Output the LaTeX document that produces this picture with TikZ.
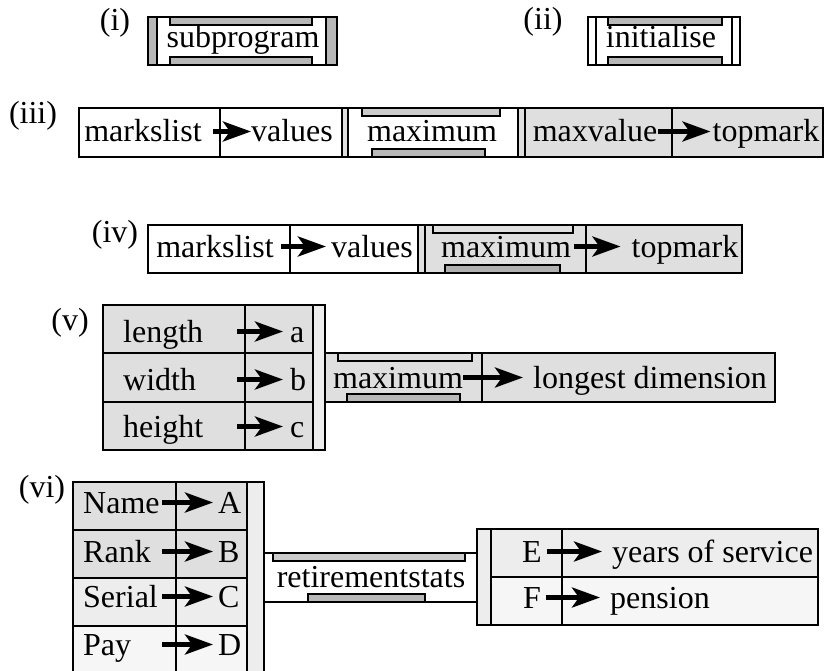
\documentclass[tikz,border=0pt]{standalone}
\usepackage{fontspec}
\setmainfont{Liberation Serif}
\usetikzlibrary{arrows.meta}
\definecolor{cellgray}{gray}{0.875}
\definecolor{palegray}{gray}{0.93}
\definecolor{faintgray}{gray}{0.965}
\definecolor{bargray}{gray}{0.72}
\tikzset{
  box/.style={draw, line width=1.8pt},
  bar/.style={draw, line width=1.5pt, fill=bargray},
  txt/.style={inner sep=0pt, text height=21pt, text depth=0pt, anchor=base},
  flow/.style={line width=4.5pt, -{Stealth[length=28pt,width=20pt,inset=7pt]}},
}
\begin{document}
\begin{tikzpicture}[x=1pt, y=-1pt, font=\fontsize{32pt}{38pt}\selectfont]
	\useasboundingbox (0,0) rectangle (827,671);
	% (i) subprogram
	\draw[box] (148,17) rectangle (337,65);
	\draw[box, fill=bargray] (148,17) rectangle (157,65);
	\draw[box, fill=bargray] (326,17) rectangle (337,65);
	\draw[bar] (170,17) rectangle (312,25);
	\draw[bar] (170,57) rectangle (312,65);
	\node[txt] (subprog) at (243,48) {subprogram};
	\node[txt] (lbli) at (115,31) {(i)};
	% (ii) initialise
	\draw[box] (588,17) rectangle (740,65);
	\draw[box] (588,17) rectangle (596,65);
	\draw[box] (732,17) rectangle (740,65);
	\draw[bar] (608,17) rectangle (722,25);
	\draw[bar] (608,57) rectangle (722,65);
	\node[txt] (init) at (661,48) {initialise};
	\node[txt] (lblii) at (543,30) {(ii)};
	% (iii)
	\draw[box] (79,108) rectangle (342,157);
	\draw[box] (220,108) -- (220,157);
	\draw[box, fill=cellgray] (342,108) rectangle (348,157);
	\draw[box] (348,108) rectangle (518,157);
	\draw[bar, fill=gray!40] (362,108) rectangle (500,116);
	\draw[bar] (372,149) rectangle (485,157);
	\draw[box, fill=cellgray] (518,108) rectangle (525,157);
	\draw[box, fill=cellgray] (525,108) rectangle (823,157);
	\draw[box] (672,108) -- (672,157);
	\node[txt] (lbliii) at (33,124) {(iii)};
	\node[txt] (marksiii) at (143,142) {markslist};
	\node[txt] (valsiii) at (292,142) {values};
	\node[txt] (maxiii) at (432,142) {maximum};
	\node[txt] (maxval) at (595,142) {maxvalue};
	\node[txt] (topiii) at (766,142) {topmark};
	\draw[flow] ([xshift=11pt]marksiii.east) -- (valsiii.west);
	\draw[flow] ([xshift=1pt]maxval.east) -- ([xshift=-2pt]topiii.west);
	% (iv)
	\draw[box] (148,225) rectangle (418,273);
	\draw[box] (290,225) -- (290,273);
	\draw[box, fill=cellgray] (418,225) rectangle (425,273);
	\draw[box, fill=cellgray] (425,225) rectangle (742,273);
	\draw[box] (586,225) -- (586,273);
	\draw[bar, fill=cellgray] (433,225) rectangle (573,233);
	\draw[bar, fill=gray!62] (445,265) rectangle (560,273);
	\node[txt] (lbliv) at (115,243) {(iv)};
	\node[txt] (marksiv) at (215,257) {markslist};
	\node[txt] (valsiv) at (372,257) {values};
	\node[txt] (maxiv) at (506,257) {maximum};
	\node[txt] (topiv) at (685,257) {topmark};
	\draw[flow] ([xshift=7pt]marksiv.east) -- ([xshift=-5pt]valsiv.west);
	\draw[flow] ([xshift=3pt]maxiv.east) -- ([xshift=-11pt]topiv.west);
	% (v)
	\foreach \yt/\yb/\nm/\lt/\bl [count=\i] in {305/353/length/a/342, 353/402/width/b/390, 402/450/height/c/437} {
		\draw[box, fill=cellgray] (103,\yt) rectangle (245,\yb);
		\draw[box, fill=cellgray] (245,\yt) rectangle (313,\yb);
		\node[txt, anchor=base west, text width=114pt] (dimin\i) at (123,\bl) {\nm};
		\node[txt, anchor=base west, inner xsep=7pt] (dimout\i) at (283,\bl) {\lt};
		\draw[flow] (dimin\i.east) -- (dimout\i.west);
	}
	\draw[box, fill=palegray] (313,305) rectangle (325,450);
	\draw[box, fill=cellgray] (325,353) rectangle (775,402);
	\draw[box] (482,353) -- (482,402);
	\draw[bar, fill=cellgray] (338,353) rectangle (472,361);
	\draw[bar] (347,394) rectangle (460,402);
	\node[txt] (lblv) at (70,330) {(v)};
	\node[txt] (maxv) at (398,388) {maximum};
	\node[txt, anchor=base west] (longest) at (533,388) {longest dimension};
	\draw[flow] (maxv.east) -- ([xshift=-10pt]longest.west);
	% (vi)
	\foreach \yt/\yb/\nm/\lt/\bl/\fc [count=\i] in {482/530/Name/A/513/cellgray, 530/578/Rank/B/562/cellgray, 578/626/Serial/C/607/palegray, 626/674/Pay/D/655/faintgray} {
		\draw[box, fill=\fc] (73,\yt) rectangle (176,\yb);
		\draw[box, fill=\fc] (176,\yt) rectangle (247,\yb);
		\node[txt, anchor=base west, text width=79pt] (staffin\i) at (83,\bl) {\nm};
		\node[txt, anchor=base west, inner xsep=5pt] (staffout\i) at (213,\bl) {\lt};
		\draw[flow] (staffin\i.east) -- (staffout\i.west);
	}
	\draw[box, fill=palegray] (247,482) rectangle (264,674);
	\draw[box] (264,553) rectangle (477,602);
	\draw[bar, fill=gray!40] (273,553) rectangle (465,561);
	\draw[bar] (308,594) rectangle (425,602);
	\draw[box, fill=palegray] (477,529) rectangle (491,625);
	\draw[box, fill=palegray] (491,529) rectangle (818,577);
	\draw[box, fill=faintgray] (491,577) rectangle (818,625);
	\draw[box] (562,529) -- (562,625);
	\node[txt] (lblvi) at (42,497) {(vi)};
	\node[txt] (retire) at (371,587) {retirementstats};
	\node[txt, inner xsep=5pt] (outE) at (532,562) {E};
	\node[txt, inner xsep=5pt] (outF) at (532,608) {F};
	\node[txt, anchor=base west, inner xsep=10pt] (service) at (602,562) {years of service};
	\node[txt, anchor=base west, inner xsep=10pt] (pension) at (600,608) {pension};
	\draw[flow] (outE.east) -- (service.west);
	\draw[flow] (outF.east) -- (pension.west);
\end{tikzpicture}
\end{document}
